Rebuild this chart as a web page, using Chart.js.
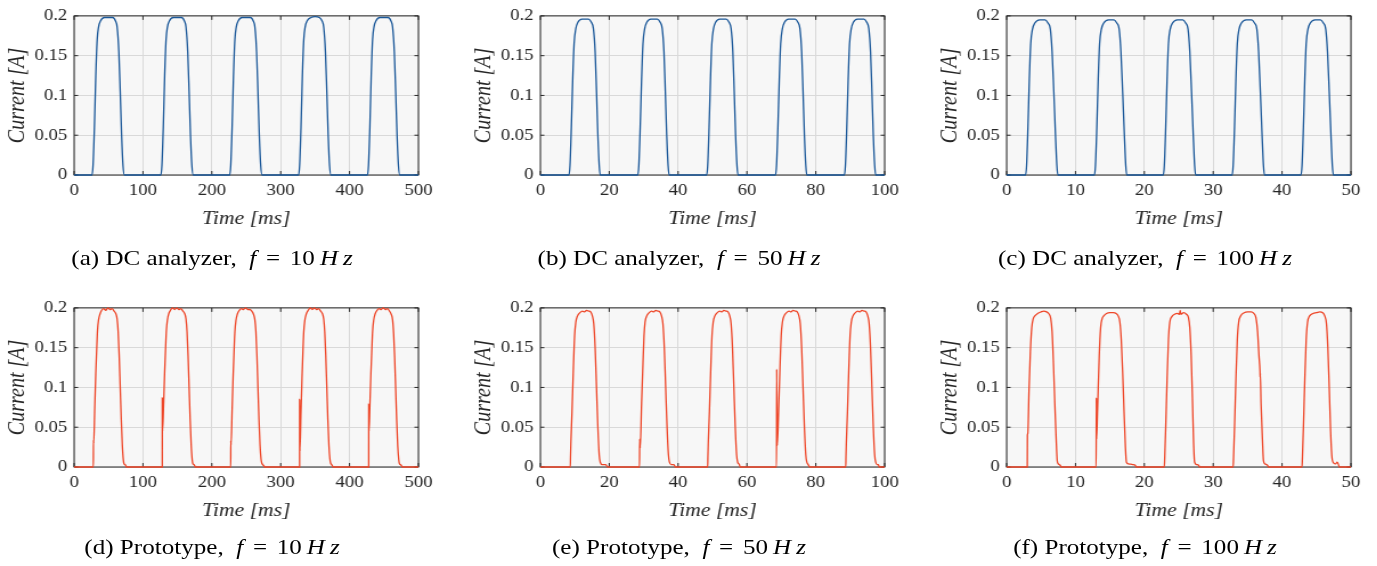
<!DOCTYPE html>
<html>
<head>
<meta charset="utf-8">
<script src="https://cdn.jsdelivr.net/npm/chart.js@4.4.1/dist/chart.umd.min.js"></script>
<style>
  html, body { margin: 0; padding: 0; background: #fff; overflow: hidden; }
  #page { position: absolute; left: 0; top: 0; width: 1208px; height: 566px; transform: scaleX(1.14); transform-origin: 0 0; }
  .panel { position: absolute; width: 400px; height: 240px; }
  .cap { position: absolute; font-family: "Liberation Serif", serif; font-size: 22px; color: #000; white-space: nowrap; transform: translate(-50%, -50%); }
  .cap i { font-style: italic; }
  .cap .eq { margin: 0 3px; }
</style>
</head>
<body>
<div id="page">
  <canvas id="pa" class="panel" width="400" height="240" style="left:0px;top:0px"></canvas>
  <canvas id="pb" class="panel" width="400" height="240" style="left:408.7px;top:0px"></canvas>
  <canvas id="pc" class="panel" width="400" height="240" style="left:817.5px;top:0px"></canvas>
  <canvas id="pd" class="panel" width="400" height="240" style="left:0px;top:292px"></canvas>
  <canvas id="pe" class="panel" width="400" height="240" style="left:408.7px;top:292px"></canvas>
  <canvas id="pf" class="panel" width="400" height="240" style="left:817.5px;top:292px"></canvas>

  <div class="cap" style="left:186px;top:258px">(a) DC analyzer,&ensp;<i>f</i> <span class="eq">=</span> 10&thinsp;<i>H&thinsp;z</i></div>
  <div class="cap" style="left:595.6px;top:258px">(b) DC analyzer,&ensp;<i>f</i> <span class="eq">=</span> 50&thinsp;<i>H&thinsp;z</i></div>
  <div class="cap" style="left:1004.4px;top:258px">(c) DC analyzer,&ensp;<i>f</i> <span class="eq">=</span> 100&thinsp;<i>H&thinsp;z</i></div>
  <div class="cap" style="left:186px;top:547px">(d) Prototype,&ensp;<i>f</i> <span class="eq">=</span> 10&thinsp;<i>H&thinsp;z</i></div>
  <div class="cap" style="left:595.6px;top:547px">(e) Prototype,&ensp;<i>f</i> <span class="eq">=</span> 50&thinsp;<i>H&thinsp;z</i></div>
  <div class="cap" style="left:1004.4px;top:547px">(f) Prototype,&ensp;<i>f</i> <span class="eq">=</span> 100&thinsp;<i>H&thinsp;z</i></div>
</div>

<script>
// y axis is the same everywhere
const yTicks = [0, 0.05, 0.1, 0.15, 0.2];

// (a) DC analyzer, 10 Hz
const dcTime10 = [0,
  26, 27.5, 29.5, 31.5, 33.5, 35.5, 38.5, 44, 56, 60, 62.5, 65, 67, 69, 71, 73,
  126, 127.5, 129.5, 131.5, 133.5, 135.5, 138.5, 144, 156, 160, 162.5, 165, 167, 169, 171, 173,
  226, 227.5, 229.5, 231.5, 233.5, 235.5, 238.5, 244, 256, 260, 262.5, 265, 267, 269, 271, 273,
  326, 327.5, 329.5, 331.5, 333.5, 335.5, 338.5, 344, 350, 356, 360, 362.5, 365, 367, 369, 371, 373,
  426, 427.5, 429.5, 431.5, 433.5, 435.5, 438.5, 444, 456, 460, 462.5, 465, 467, 469, 471, 473,
  500];
const dcCurr10 = [0,
  0, 0.012, 0.06, 0.125, 0.17, 0.186, 0.194, 0.198, 0.198, 0.194, 0.186, 0.155, 0.105, 0.05, 0.012, 0,
  0, 0.012, 0.06, 0.125, 0.17, 0.186, 0.194, 0.198, 0.198, 0.194, 0.186, 0.155, 0.105, 0.05, 0.012, 0,
  0, 0.012, 0.06, 0.125, 0.17, 0.186, 0.194, 0.198, 0.198, 0.194, 0.186, 0.155, 0.105, 0.05, 0.012, 0,
  0, 0.012, 0.06, 0.125, 0.17, 0.186, 0.194, 0.198, 0.199, 0.198, 0.194, 0.186, 0.155, 0.105, 0.05, 0.012, 0,
  0, 0.012, 0.06, 0.125, 0.17, 0.186, 0.194, 0.198, 0.198, 0.194, 0.186, 0.155, 0.105, 0.05, 0.012, 0,
  0];

// (b) DC analyzer, 50 Hz
const dcTime50 = [0,
  8.3, 8.6, 9.0, 9.4, 9.8, 10.3, 10.9, 12.1, 14.0, 14.8, 15.4, 15.9, 16.3, 16.7, 17.1, 17.4,
  28.3, 28.6, 29.0, 29.4, 29.8, 30.3, 30.9, 32.1, 34.0, 34.8, 35.4, 35.9, 36.3, 36.7, 37.1, 37.4,
  48.3, 48.6, 49.0, 49.4, 49.8, 50.3, 50.9, 52.1, 54.0, 54.8, 55.4, 55.9, 56.3, 56.7, 57.1, 57.4,
  68.3, 68.6, 69.0, 69.4, 69.8, 70.3, 70.9, 72.1, 74.0, 74.8, 75.4, 75.9, 76.3, 76.7, 77.1, 77.4,
  88.3, 88.6, 89.0, 89.4, 89.8, 90.3, 90.9, 92.1, 94.0, 94.8, 95.4, 95.9, 96.3, 96.7, 97.1, 97.4,
  100];
const dcCurr50 = [0,
  0, 0.012, 0.06, 0.12, 0.165, 0.184, 0.192, 0.196, 0.196, 0.192, 0.184, 0.155, 0.105, 0.05, 0.012, 0,
  0, 0.012, 0.06, 0.12, 0.165, 0.184, 0.192, 0.196, 0.196, 0.192, 0.184, 0.155, 0.105, 0.05, 0.012, 0,
  0, 0.012, 0.06, 0.12, 0.165, 0.184, 0.192, 0.196, 0.196, 0.192, 0.184, 0.155, 0.105, 0.05, 0.012, 0,
  0, 0.012, 0.06, 0.12, 0.165, 0.184, 0.192, 0.196, 0.196, 0.192, 0.184, 0.155, 0.105, 0.05, 0.012, 0,
  0, 0.012, 0.06, 0.12, 0.165, 0.184, 0.192, 0.196, 0.196, 0.192, 0.184, 0.155, 0.105, 0.05, 0.012, 0,
  0];

// (c) DC analyzer, 100 Hz
const dcTime100 = [0,
  2.75, 2.9, 3.1, 3.3, 3.5, 3.75, 4.1, 4.8, 5.6, 6.0, 6.35, 6.6, 6.85, 7.1, 7.3, 7.45,
  12.75, 12.9, 13.1, 13.3, 13.5, 13.75, 14.1, 14.8, 15.6, 16.0, 16.35, 16.6, 16.85, 17.1, 17.3, 17.45,
  22.75, 22.9, 23.1, 23.3, 23.5, 23.75, 24.1, 24.8, 25.6, 26.0, 26.35, 26.6, 26.85, 27.1, 27.3, 27.45,
  32.75, 32.9, 33.1, 33.3, 33.5, 33.75, 34.1, 34.8, 35.6, 36.0, 36.35, 36.6, 36.85, 37.1, 37.3, 37.45,
  42.75, 42.9, 43.1, 43.3, 43.5, 43.75, 44.1, 44.8, 45.6, 46.0, 46.35, 46.6, 46.85, 47.1, 47.3, 47.45,
  50];
const dcCurr100 = [0,
  0, 0.012, 0.06, 0.12, 0.165, 0.183, 0.191, 0.195, 0.195, 0.191, 0.183, 0.155, 0.105, 0.05, 0.012, 0,
  0, 0.012, 0.06, 0.12, 0.165, 0.183, 0.191, 0.195, 0.195, 0.191, 0.183, 0.155, 0.105, 0.05, 0.012, 0,
  0, 0.012, 0.06, 0.12, 0.165, 0.183, 0.191, 0.195, 0.195, 0.191, 0.183, 0.155, 0.105, 0.05, 0.012, 0,
  0, 0.012, 0.06, 0.12, 0.165, 0.183, 0.191, 0.195, 0.195, 0.191, 0.183, 0.155, 0.105, 0.05, 0.012, 0,
  0, 0.012, 0.06, 0.12, 0.165, 0.183, 0.191, 0.195, 0.195, 0.191, 0.183, 0.155, 0.105, 0.05, 0.012, 0,
  0];

// (d) Prototype, 10 Hz
const protoTime10 = [0,
  28, 28.05, 28.5, 30, 31.5, 33, 34, 35.5, 37.5, 40, 43, 46, 49, 52, 55, 58, 60.5, 62.5, 64, 65.5, 67, 68.5, 70, 71.5, 72.5, 74, 75.5, 76,
  128, 128.05, 128.4, 130, 131.5, 133, 134, 135.5, 137.5, 140, 143, 146, 149, 152, 155, 158, 160.5, 162.5, 164, 165.5, 167, 168.5, 170, 171.5, 172.5, 174, 175.5, 176,
  227.5, 227.55, 228, 229.5, 231, 232.5, 233.5, 235, 237, 240, 243, 246, 249, 252, 255, 258, 260.5, 262.5, 264, 265.5, 267, 268.5, 270, 271.5, 272.5, 274, 276, 276.5,
  327.5, 327.55, 327.9, 329.5, 331, 332.5, 333.5, 335, 337, 340, 343, 346, 349, 352, 355, 358, 360.5, 362.5, 364, 365.5, 367, 368.5, 370, 371.5, 372.5, 374, 375.5, 376,
  427.8, 427.85, 428.2, 429.5, 431, 432.5, 433.5, 435, 437, 440, 443, 446, 449, 452, 455, 458, 460.5, 462.5, 464, 465.5, 467, 468.5, 470, 471.5, 472.5, 474, 476, 476.5,
  500];
const protoCurr10 = [0,
  0, 0.034, 0.03, 0.075, 0.118, 0.152, 0.172, 0.185, 0.192, 0.197, 0.199, 0.197, 0.2, 0.198, 0.199, 0.196, 0.193, 0.186, 0.17, 0.14, 0.1, 0.06, 0.028, 0.009, 0.004, 0.003, 0.001, 0,
  0, 0.087, 0.045, 0.08, 0.12, 0.153, 0.172, 0.185, 0.193, 0.197, 0.2, 0.198, 0.2, 0.198, 0.199, 0.196, 0.193, 0.186, 0.17, 0.14, 0.1, 0.06, 0.028, 0.009, 0.004, 0.003, 0.001, 0,
  0, 0.033, 0.028, 0.072, 0.115, 0.15, 0.17, 0.184, 0.192, 0.197, 0.199, 0.198, 0.2, 0.198, 0.198, 0.196, 0.192, 0.185, 0.17, 0.14, 0.1, 0.06, 0.028, 0.01, 0.005, 0.003, 0.001, 0,
  0, 0.085, 0.02, 0.07, 0.113, 0.15, 0.17, 0.184, 0.192, 0.197, 0.2, 0.198, 0.2, 0.198, 0.199, 0.196, 0.193, 0.186, 0.17, 0.14, 0.1, 0.06, 0.028, 0.01, 0.005, 0.003, 0.001, 0,
  0, 0.079, 0.045, 0.077, 0.117, 0.15, 0.17, 0.184, 0.192, 0.197, 0.199, 0.198, 0.2, 0.198, 0.199, 0.196, 0.192, 0.185, 0.168, 0.138, 0.098, 0.058, 0.026, 0.009, 0.004, 0.003, 0.001, 0,
  0];

// (e) Prototype, 50 Hz
const protoTime50 = [0,
  8.7, 8.75, 9.2, 9.6, 9.95, 10.3, 10.8, 11.5, 12.2, 12.8, 13.4, 14, 14.6, 15.1, 15.5, 15.9, 16.3, 16.7, 17.1, 17.4, 18, 19, 19.5,
  28.8, 28.85, 29.0, 29.4, 29.8, 30.1, 30.4, 30.9, 31.6, 32.3, 32.9, 33.5, 34.1, 34.7, 35.2, 35.6, 36, 36.4, 36.8, 37.2, 37.5, 38, 38.8, 39.2,
  48.6, 48.65, 49.1, 49.5, 49.85, 50.2, 50.7, 51.4, 52.1, 52.7, 53.3, 53.9, 54.5, 55, 55.4, 55.8, 56.2, 56.6, 57, 57.3, 57.8, 58,
  68.6, 68.65, 68.8, 69.2, 69.6, 69.95, 70.3, 70.8, 71.5, 72.2, 72.8, 73.4, 74, 74.6, 75.1, 75.5, 75.9, 76.3, 76.7, 77.1, 77.4, 77.8, 78.2,
  88.7, 88.75, 89.2, 89.6, 89.95, 90.3, 90.8, 91.5, 92.2, 92.8, 93.4, 94, 94.6, 95.1, 95.5, 95.9, 96.3, 96.7, 97.1, 97.4, 97.8, 98.2, 98.4,
  100];
const protoCurr50 = [0,
  0, 0.012, 0.07, 0.125, 0.165, 0.182, 0.19, 0.194, 0.196, 0.195, 0.197, 0.196, 0.195, 0.19, 0.18, 0.15, 0.1, 0.05, 0.015, 0.006, 0.003, 0.003, 0,
  0, 0.035, 0.024, 0.08, 0.13, 0.165, 0.182, 0.19, 0.194, 0.196, 0.195, 0.197, 0.196, 0.195, 0.19, 0.18, 0.15, 0.1, 0.05, 0.015, 0.006, 0.003, 0.003, 0,
  0, 0.012, 0.07, 0.125, 0.165, 0.182, 0.19, 0.194, 0.196, 0.195, 0.197, 0.196, 0.195, 0.19, 0.18, 0.15, 0.1, 0.05, 0.015, 0.006, 0.003, 0,
  0, 0.123, 0.027, 0.07, 0.125, 0.165, 0.182, 0.19, 0.194, 0.196, 0.195, 0.197, 0.196, 0.195, 0.19, 0.18, 0.15, 0.1, 0.05, 0.015, 0.006, 0.003, 0,
  0, 0.012, 0.07, 0.125, 0.165, 0.182, 0.19, 0.194, 0.196, 0.195, 0.197, 0.196, 0.195, 0.19, 0.18, 0.15, 0.1, 0.05, 0.015, 0.006, 0.003, 0.003, 0,
  0];

// (f) Prototype, 100 Hz
const protoTime100 = [0,
  3.0, 3.02, 3.08, 3.25, 3.45, 3.65, 3.85, 4.1, 4.5, 5.0, 5.4, 5.8, 6.1, 6.4, 6.6, 6.8, 7.0, 7.2, 7.35, 7.5, 7.8, 7.9,
  13.0, 13.03, 13.06, 13.2, 13.45, 13.65, 13.85, 14.1, 14.5, 15, 15.5, 15.9, 16.2, 16.45, 16.65, 16.85, 17.05, 17.25, 17.4, 17.7, 18.3, 18.7, 18.8,
  22.9, 22.95, 23.1, 23.3, 23.5, 23.7, 24, 24.4, 24.8, 25.1, 25.2, 25.3, 25.7, 26.1, 26.4, 26.6, 26.8, 27, 27.15, 27.3, 27.6, 27.9, 28,
  32.9, 32.95, 33.1, 33.3, 33.5, 33.7, 34, 34.5, 35, 35.5, 35.9, 36.2, 36.45, 36.65, 36.8, 36.82, 36.84, 36.95, 37.15, 37.3, 37.5, 37.9, 38,
  42.9, 42.95, 43.1, 43.3, 43.5, 43.7, 44, 44.5, 45, 45.5, 45.9, 46.2, 46.45, 46.65, 46.85, 47.05, 47.25, 47.5, 47.8, 48.0, 48.2, 48.3,
  50];
const protoCurr100 = [0,
  0, 0.04, 0.042, 0.095, 0.145, 0.175, 0.186, 0.19, 0.193, 0.195, 0.196, 0.195, 0.193, 0.187, 0.17, 0.13, 0.08, 0.035, 0.008, 0.004, 0.002, 0,
  0, 0.087, 0.035, 0.07, 0.14, 0.175, 0.186, 0.19, 0.193, 0.194, 0.194, 0.193, 0.19, 0.182, 0.16, 0.12, 0.07, 0.025, 0.006, 0.004, 0.003, 0.002, 0,
  0, 0.01, 0.05, 0.11, 0.16, 0.182, 0.189, 0.192, 0.193, 0.192, 0.197, 0.192, 0.194, 0.192, 0.188, 0.175, 0.14, 0.08, 0.03, 0.006, 0.003, 0.002, 0,
  0, 0.01, 0.05, 0.11, 0.16, 0.182, 0.19, 0.194, 0.195, 0.195, 0.193, 0.188, 0.17, 0.14, 0.12, 0.113, 0.118, 0.08, 0.035, 0.008, 0.004, 0.002, 0,
  0, 0.01, 0.05, 0.11, 0.16, 0.182, 0.19, 0.193, 0.194, 0.195, 0.194, 0.19, 0.18, 0.15, 0.1, 0.045, 0.012, 0.005, 0.004, 0.006, 0.003, 0,
  0];

const BLUE = '#1b5899';
const RED = '#ee4628';
const INK = '#262626';
const SERIF = '"Liberation Serif", "Times New Roman", serif';

// matlab style box: grey fill, dark frame, inward ticks
const frame = {
  id: 'frame',
  beforeDraw(chart) {
    const a = chart.chartArea, ctx = chart.ctx;
    ctx.save();
    ctx.fillStyle = '#f7f7f7';
    ctx.fillRect(a.left, a.top, a.right - a.left, a.bottom - a.top);
    ctx.restore();
  },
  beforeDatasetsDraw(chart) {
    const a = chart.chartArea, ctx = chart.ctx;
    const xs = chart.scales.x, ys = chart.scales.y;
    ctx.save();
    ctx.strokeStyle = INK;
    ctx.lineWidth = 1;
    ctx.beginPath();
    xs.ticks.forEach(function (t) {
      const px = xs.getPixelForValue(t.value);
      ctx.moveTo(px, a.bottom); ctx.lineTo(px, a.bottom - 4);
      ctx.moveTo(px, a.top); ctx.lineTo(px, a.top + 4);
    });
    ys.ticks.forEach(function (t) {
      const py = ys.getPixelForValue(t.value);
      ctx.moveTo(a.left, py); ctx.lineTo(a.left + 3.5, py);
      ctx.moveTo(a.right, py); ctx.lineTo(a.right - 3.5, py);
    });
    ctx.stroke();
    ctx.strokeRect(a.left, a.top, a.right - a.left, a.bottom - a.top);
    ctx.restore();
  }
};

function makePanel(id, times, currents, xMax, xStep, color) {
  const pts = times.map(function (t, i) { return { x: t, y: currents[i] }; });
  new Chart(document.getElementById(id), {
    type: 'line',
    data: {
      datasets: [{
        data: pts,
        borderColor: color,
        borderWidth: 1.3,
        pointRadius: 0,
        cubicInterpolationMode: 'monotone',
        clip: false
      }]
    },
    options: {
      responsive: false,
      animation: false,
      devicePixelRatio: 1,
      layout: { padding: { left: 0, top: 15, right: 33, bottom: 0 } },
      plugins: { legend: { display: false }, tooltip: { enabled: false } },
      scales: {
        x: {
          type: 'linear', min: 0, max: xMax,
          afterFit: function (s) { s.height = 65; },
          ticks: { stepSize: xStep, color: INK, padding: 6, maxRotation: 0, font: { family: SERIF, size: 16.5 } },
          grid: { color: '#d9d9d9', drawTicks: false },
          border: { display: false },
          title: { display: true, text: 'Time [ms]', color: INK, padding: { top: 0, bottom: 10 },
                   font: { family: SERIF, size: 19, style: 'italic' } }
        },
        y: {
          min: 0, max: 0.2,
          afterFit: function (s) { s.width = 65; },
          afterBuildTicks: function (s) { s.ticks = yTicks.map(function (v) { return { value: v }; }); },
          ticks: { color: INK, padding: 6, font: { family: SERIF, size: 16.5 },
                   callback: function (v) { return String(+v.toFixed(2)); } },
          grid: { color: '#d9d9d9', drawTicks: false },
          border: { display: false },
          title: { display: true, text: 'Current [A]', color: INK, padding: { top: 4, bottom: 0 },
                   font: { family: SERIF, size: 20, style: 'italic' } }
        }
      }
    },
    plugins: [frame]
  });
}

makePanel('pa', dcTime10, dcCurr10, 500, 100, BLUE);
makePanel('pb', dcTime50, dcCurr50, 100, 20, BLUE);
makePanel('pc', dcTime100, dcCurr100, 50, 10, BLUE);
makePanel('pd', protoTime10, protoCurr10, 500, 100, RED);
makePanel('pe', protoTime50, protoCurr50, 100, 20, RED);
makePanel('pf', protoTime100, protoCurr100, 50, 10, RED);
</script>
</body>
</html>
